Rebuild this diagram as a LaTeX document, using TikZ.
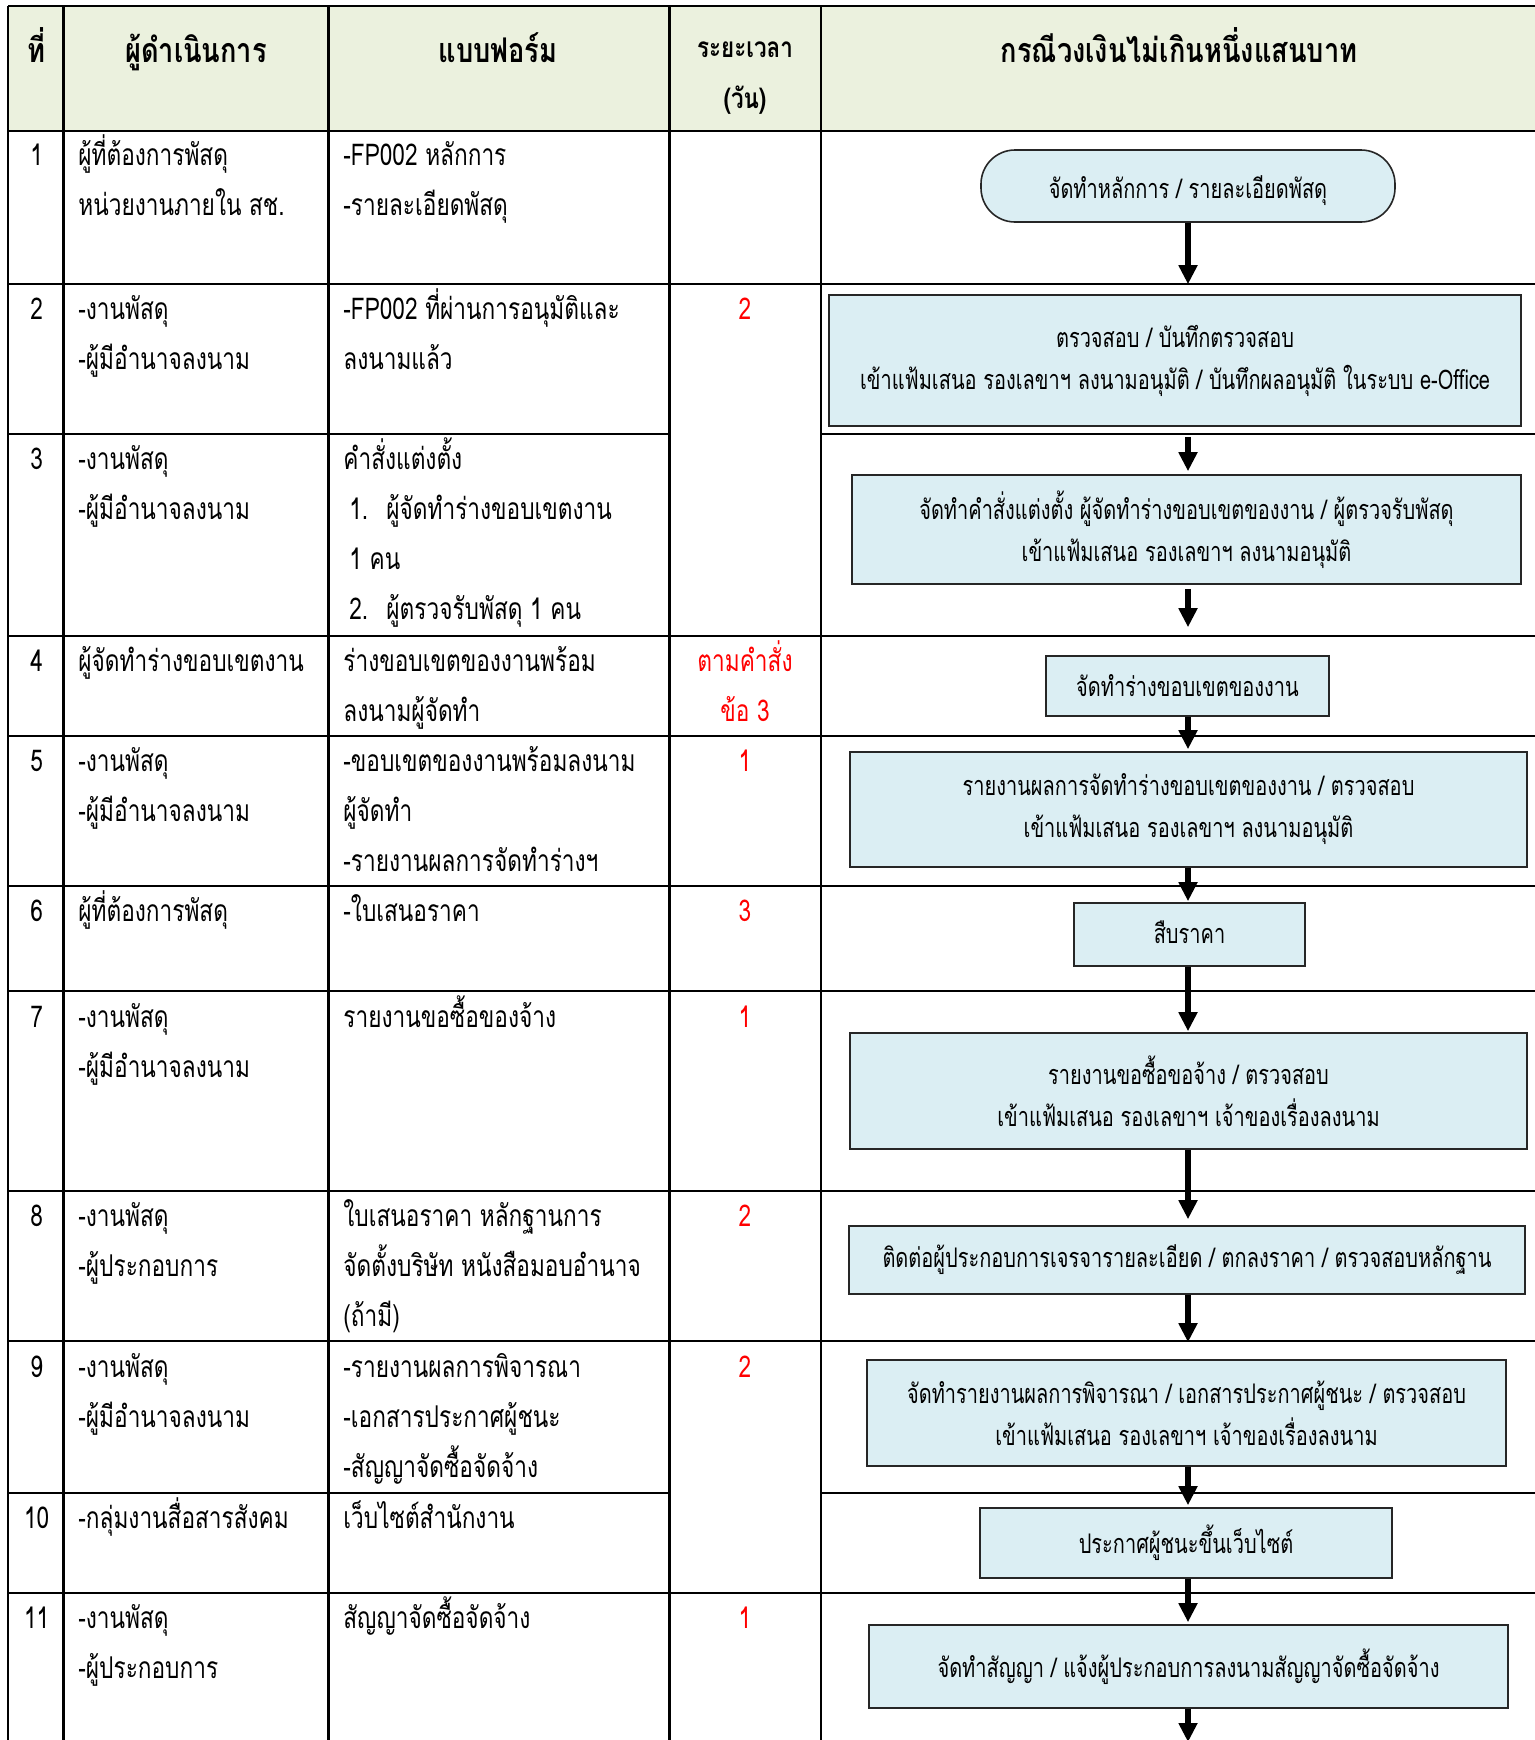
\documentclass[tikz,border=0pt]{standalone}
\usepackage{fontspec}
\setmainfont{Loma}[Script=Thai]
\newfontfamily\thf[Script=Thai,FakeStretch=0.755]{Loma}
\newfontfamily\thb[Script=Thai,FakeStretch=0.74]{Loma}
\newfontfamily\thh[Script=Thai,FakeStretch=0.8]{Loma}
\usetikzlibrary{arrows.meta}
\definecolor{hdr}{HTML}{EBF1DE}
\definecolor{boxc}{HTML}{DBEEF3}
\definecolor{redt}{HTML}{FF0000}
\newcommand\bodytext{\thf\fontsize{15}{25}\selectfont}
\newcommand\boxtext{\thb\fontsize{13.5}{21}\selectfont\lineskiplimit=-50pt}
\newcommand\hdtext{\thh\bfseries\fontsize{17}{25}\selectfont}
\newcommand\hdsmall{\thh\bfseries\fontsize{14}{25.5}\selectfont}
\newcommand\ctext[1]{\parbox[t]{400pt}{\lineskiplimit=-50pt\raggedright #1}}
\newcommand\ccent[1]{\parbox[t]{140pt}{\lineskiplimit=-50pt\centering #1}}
\begin{document}
\begin{tikzpicture}[x=0.5pt,y=-0.5pt,
  tl/.style={line width=1.1pt,black},
  cell/.style={anchor=base west,inner sep=0pt,font=\bodytext,yshift=-1.6pt},
  num/.style={anchor=base,inner sep=0pt,font=\bodytext,yshift=-1.6pt},
  dur/.style={anchor=base,inner sep=0pt,font=\bodytext,text=redt,yshift=-1.6pt},
  hd/.style={anchor=base,inner sep=0pt,font=\hdtext},
  hds/.style={anchor=base,inner sep=0pt,font=\hdsmall},
  fbox/.style={draw=black!85,line width=0.8pt,fill=boxc,inner sep=0pt,align=center,font=\boxtext},
  arr/.style={line width=3pt,-{Triangle[length=9.5pt,width=9pt]}}]
\useasboundingbox (0,0) rectangle (1535,1740);
% header background
\fill[hdr] (8,6) rectangle (1535,131);
% horizontal rules
\draw[tl] (8,6) -- (1535,6);
\draw[tl] (8,131) -- (1535,131);
\draw[tl] (8,284) -- (1535,284);
\draw[tl] (8,434) -- (669.5,434);
\draw[tl] (821,434) -- (1535,434);
\draw[tl] (8,636) -- (1535,636);
\draw[tl] (8,736) -- (1535,736);
\draw[tl] (8,886) -- (1535,886);
\draw[tl] (8,991) -- (1535,991);
\draw[tl] (8,1191) -- (1535,1191);
\draw[tl] (8,1341) -- (1535,1341);
\draw[tl] (8,1493) -- (669.5,1493);
\draw[tl] (821,1493) -- (1535,1493);
\draw[tl] (8,1593) -- (1535,1593);
% vertical rules
\draw[tl] (8,6) -- (8,1740);
\draw[tl] (63.5,6) -- (63.5,1740);
\draw[tl] (328.5,6) -- (328.5,1740);
\draw[tl] (669.5,6) -- (669.5,1740);
\draw[line width=0.8pt] (821,6) -- (821,1740);

% header
\node[hd] (h1) at (36.6,62) {ที่};
\node[hd] (h2) at (196,62) {ผู้ดำเนินการ};
\node[hd] (h3) at (498,62) {แบบฟอร์ม};
\node[hds] (h4) at (745,57) {\ccent{ระยะเวลา\\(วัน)}};
\node[hd] (h5) at (1179,62) {กรณีวงเงินไม่เกินหนึ่งแสนบาท};

% row 1
\node[num] (n1) at (36.6,162) {1};
\node[cell] (p1) at (78,162) {\ctext{ผู้ที่ต้องการพัสดุ\\หน่วยงานภายใน สช.}};
\node[cell] (f1) at (343,162) {\ctext{-FP002 หลักการ\\-รายละเอียดพัสดุ}};
% row 2
\node[num] (n2) at (36.6,316) {2};
\node[cell] (p2) at (78,316) {\ctext{-งานพัสดุ\\-ผู้มีอำนาจลงนาม}};
\node[cell] (f2) at (343,316) {\ctext{-FP002 ที่ผ่านการอนุมัติและ\\ลงนามแล้ว}};
\node[dur] (d2) at (745,316) {2};
% row 3
\node[num] (n3) at (36.6,466) {3};
\node[cell] (p3) at (78,466) {\ctext{-งานพัสดุ\\-ผู้มีอำนาจลงนาม}};
\node[cell] (f3) at (343,466) {\ctext{คำสั่งแต่งตั้ง\\\hspace*{3pt}\makebox[18.5pt][l]{1.}ผู้จัดทำร่างขอบเขตงาน\\\hspace*{3pt}1 คน\\\hspace*{3pt}\makebox[18.5pt][l]{2.}ผู้ตรวจรับพัสดุ 1 คน}};
% row 4
\node[num] (n4) at (36.6,668) {4};
\node[cell] (p4) at (78,668) {\ctext{ผู้จัดทำร่างขอบเขตงาน}};
\node[cell] (f4) at (343,668) {\ctext{ร่างขอบเขตของงานพร้อม\\ลงนามผู้จัดทำ}};
\node[dur] (d4) at (745,668) {\ccent{ตามคำสั่ง\\ข้อ 3}};
% row 5
\node[num] (n5) at (36.6,768) {5};
\node[cell] (p5) at (78,768) {\ctext{-งานพัสดุ\\-ผู้มีอำนาจลงนาม}};
\node[cell] (f5) at (343,768) {\ctext{-ขอบเขตของงานพร้อมลงนาม\\ผู้จัดทำ\\-รายงานผลการจัดทำร่างฯ}};
\node[dur] (d5) at (745,768) {1};
% row 6
\node[num] (n6) at (36.6,918) {6};
\node[cell] (p6) at (78,918) {\ctext{ผู้ที่ต้องการพัสดุ}};
\node[cell] (f6) at (343,918) {\ctext{-ใบเสนอราคา}};
\node[dur] (d6) at (745,918) {3};
% row 7
\node[num] (n7) at (36.6,1024) {7};
\node[cell] (p7) at (78,1024) {\ctext{-งานพัสดุ\\-ผู้มีอำนาจลงนาม}};
\node[cell] (f7) at (343,1024) {\ctext{รายงานขอซื้อของจ้าง}};
\node[dur] (d7) at (745,1024) {1};
% row 8
\node[num] (n8) at (36.6,1223) {8};
\node[cell] (p8) at (78,1223) {\ctext{-งานพัสดุ\\-ผู้ประกอบการ}};
\node[cell] (f8) at (343,1223) {\ctext{ใบเสนอราคา หลักฐานการ\\จัดตั้งบริษัท หนังสือมอบอำนาจ\\(ถ้ามี)}};
\node[dur] (d8) at (745,1223) {2};
% row 9
\node[num] (n9) at (36.6,1374) {9};
\node[cell] (p9) at (78,1374) {\ctext{-งานพัสดุ\\-ผู้มีอำนาจลงนาม}};
\node[cell] (f9) at (343,1374) {\ctext{-รายงานผลการพิจารณา\\-เอกสารประกาศผู้ชนะ\\-สัญญาจัดซื้อจัดจ้าง}};
\node[dur] (d9) at (745,1374) {2};
% row 10
\node[num] (n10) at (36.6,1525) {10};
\node[cell] (p10) at (78,1525) {\ctext{-กลุ่มงานสื่อสารสังคม}};
\node[cell] (f10) at (343,1525) {\ctext{เว็บไซต์สำนักงาน}};
% row 11
\node[num] (n11) at (36.6,1625) {11};
\node[cell] (p11) at (78,1625) {\ctext{-งานพัสดุ\\-ผู้ประกอบการ}};
\node[cell] (f11) at (343,1625) {\ctext{สัญญาจัดซื้อจัดจ้าง}};
\node[dur] (d11) at (745,1625) {1};

% flowchart boxes
\node[fbox,rounded corners=17pt,minimum width=207pt,minimum height=36pt] (b1) at (1188,186) {\raisebox{-2.5pt}[\height][\depth]{จัดทำหลักการ / รายละเอียดพัสดุ}};
\node[fbox,minimum width=346pt,minimum height=65.5pt] (b2) at (1175,360.5) {ตรวจสอบ / บันทึกตรวจสอบ\\เข้าแฟ้มเสนอ รองเลขาฯ ลงนามอนุมัติ / บันทึกผลอนุมัติ ในระบบ e-Office};
\node[fbox,minimum width=334.5pt,minimum height=54.5pt] (b3) at (1186.5,529.5) {จัดทำคำสั่งแต่งตั้ง ผู้จัดทำร่างขอบเขตของงาน / ผู้ตรวจรับพัสดุ\\เข้าแฟ้มเสนอ รองเลขาฯ ลงนามอนุมัติ};
\node[fbox,minimum width=141.5pt,minimum height=30pt] (b4) at (1187.5,686) {จัดทำร่างขอบเขตของงาน};
\node[fbox,minimum width=338.5pt,minimum height=57.5pt] (b5) at (1188.5,809.5) {รายงานผลการจัดทำร่างขอบเขตของงาน / ตรวจสอบ\\เข้าแฟ้มเสนอ รองเลขาฯ ลงนามอนุมัติ};
\node[fbox,minimum width=115.5pt,minimum height=31.5pt] (b6) at (1189.5,934.5) {\raisebox{1pt}[\height][\depth]{สืบราคา}};
\node[fbox,minimum width=338.5pt,minimum height=58pt] (b7) at (1188.5,1091) {รายงานขอซื้อขอจ้าง / ตรวจสอบ\\เข้าแฟ้มเสนอ รองเลขาฯ เจ้าของเรื่องลงนาม};
\node[fbox,minimum width=338pt,minimum height=34pt] (b8) at (1187,1260) {ติดต่อผู้ประกอบการเจรจารายละเอียด / ตกลงราคา / ตรวจสอบหลักฐาน};
\node[fbox,minimum width=319.5pt,minimum height=53pt] (b9) at (1186.5,1413) {จัดทำรายงานผลการพิจารณา / เอกสารประกาศผู้ชนะ / ตรวจสอบ\\เข้าแฟ้มเสนอ รองเลขาฯ เจ้าของเรื่องลงนาม};
\node[fbox,minimum width=206pt,minimum height=35pt] (b10) at (1186,1543) {ประกาศผู้ชนะขึ้นเว็บไซต์};
\node[fbox,minimum width=319.5pt,minimum height=41.5pt] (b11) at (1188.5,1666.5) {จัดทำสัญญา / แจ้งผู้ประกอบการลงนามสัญญาจัดซื้อจัดจ้าง};

% connectors
\coordinate (ax) at (1188,0);
\coordinate (bend) at (1188,1742);
\draw[arr,shorten >=5pt] (b1.south -| ax) -- (b2.north -| ax);
\draw[arr,shorten <=5pt,shorten >=1.5pt] (b2.south -| ax) -- (b3.north -| ax);
\draw[arr,shorten <=2pt,shorten >=14pt] (b3.south -| ax) -- (b4.north -| ax);
\draw[arr,shorten >=1pt] (b4.south -| ax) -- (b5.north -| ax);
\draw[arr,shorten >=0.5pt] (b5.south -| ax) -- (b6.north -| ax);
\draw[arr,shorten >=0.5pt] (b6.south -| ax) -- (b7.north -| ax);
\draw[arr,shorten >=3pt] (b7.south -| ax) -- (b8.north -| ax);
\draw[arr,shorten >=8.5pt] (b8.south -| ax) -- (b9.north -| ax);
\draw[arr,shorten >=1pt] (b9.south -| ax) -- (b10.north -| ax);
\draw[arr,shorten >=1pt] (b10.south -| ax) -- (b11.north -| ax);
\draw[arr] (b11.south -| ax) -- (bend);
\end{tikzpicture}
\end{document}
